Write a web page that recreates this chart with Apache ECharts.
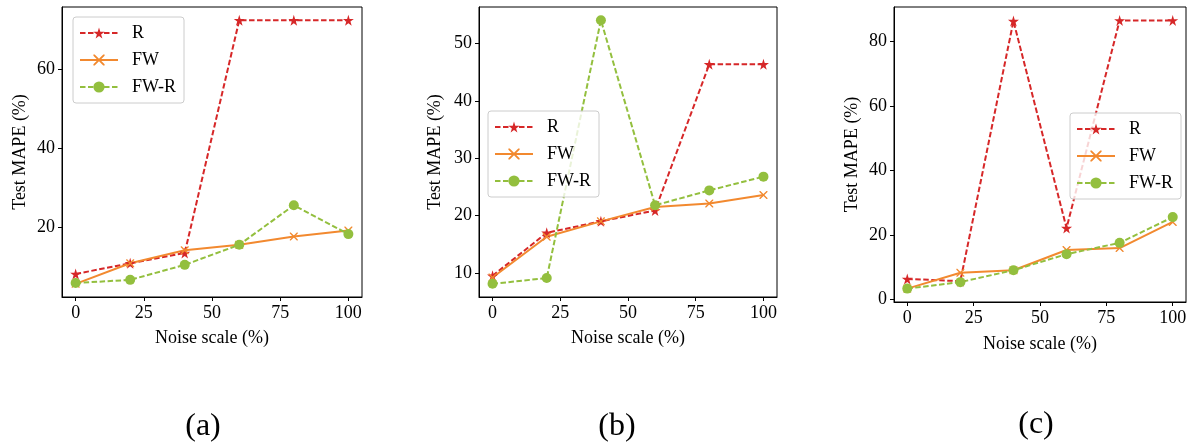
<!DOCTYPE html>
<html>
<head>
<meta charset="utf-8">
<script src="https://cdn.jsdelivr.net/npm/echarts@6/dist/echarts.min.js"></script>
<style>
html,body{margin:0;padding:0;background:#fff;}
#chart{width:1196px;height:443px;}
</style>
</head>
<body>
<div id="chart"></div>
<script>
// ---- data ----
const noiseScale = [0, 20, 40, 60, 80, 100];
const seriesNames = ['R', 'FW', 'FW-R'];
const a_R   = [8.2, 10.9, 13.5, 72.5, 72.5, 72.5];
const a_FW  = [5.7, 10.9, 14.2, 15.6, 17.7, 19.2];
const a_FWR = [5.9, 6.7, 10.5, 15.6, 25.6, 18.3];
const b_R   = [9.5, 17.0, 19.0, 20.9, 46.4, 46.4];
const b_FW  = [9.2, 16.3, 19.0, 21.5, 22.1, 23.6];
const b_FWR = [8.1, 9.1, 54.1, 21.8, 24.4, 26.8];
const c_R   = [6.3, 5.6, 86.4, 22.1, 86.6, 86.6];
const c_FW  = [3.3, 8.2, 9.0, 15.3, 15.9, 24.0];
const c_FWR = [3.3, 5.3, 9.0, 14.0, 17.5, 25.5];
const xTicks = [0, 25, 50, 75, 100];
const yTicksA = [20, 40, 60];
const yTicksB = [10, 20, 30, 40, 50];
const yTicksC = [0, 20, 40, 60, 80];
const panelLabels = ['(a)', '(b)', '(c)'];
const xAxisTitle = 'Noise scale (%)';
const yAxisTitle = 'Test MAPE (%)';

// ---- style ----
const FONT = 'Liberation Serif';
const COLORS = {R: '#d62728', FW: '#f2892f', 'FW-R': '#93bf3e'};
const STAR = 'path://M50,0 L61,35 L98,35 L68,57 L79,91 L50,70 L21,91 L32,57 L2,35 L39,35 Z';
const XMARK = 'path://M0,0 L1.2,0 L5,3.8 L8.8,0 L10,0 L10,1.2 L6.2,5 L10,8.8 L10,10 L8.8,10 L5,6.2 L1.2,10 L0,10 L0,8.8 L3.8,5 L0,1.2 Z';

const grids = [
  {left: 62, top: 7, width: 300, height: 290},
  {left: 479, top: 7, width: 298, height: 290},
  {left: 894, top: 7, width: 292, height: 295}
];
const panels = [
  {R: a_R, FW: a_FW, FWR: a_FWR, ticks: yTicksA, nameGap: 33},
  {R: b_R, FW: b_FW, FWR: b_FWR, ticks: yTicksB, nameGap: 35},
  {R: c_R, FW: c_FW, FWR: c_FWR, ticks: yTicksC, nameGap: 33}
];
const legendPos = [{left: 73, top: 17}, {left: 488, top: 111}, {left: 1070, top: 113}];

function pairs(ys) { return noiseScale.map((x, i) => [x, ys[i]]); }
function range(p) {
  const all = p.R.concat(p.FW, p.FWR);
  const lo = Math.min.apply(null, all), hi = Math.max.apply(null, all);
  const m = (hi - lo) * 0.05;
  return [lo - m, hi + m];
}

const option = {
  animation: false,
  backgroundColor: '#fff',
  grid: grids.map(g => Object.assign({show: true, borderColor: '#000', borderWidth: 1, backgroundColor: 'transparent'}, g)),
  xAxis: grids.map((g, i) => ({
    type: 'value', gridIndex: i, min: -5, max: 105,
    name: xAxisTitle, nameLocation: 'middle', nameGap: (i === 2 ? 33 : 32),
    nameTextStyle: {fontFamily: FONT, fontSize: 18, color: '#000'},
    splitLine: {show: false},
    axisLine: {show: true, onZero: false, lineStyle: {color: '#000', width: 1}},
    axisTick: {show: true, inside: false, length: 4, customValues: xTicks, lineStyle: {color: '#000'}},
    axisLabel: {show: true, margin: 7, customValues: xTicks, fontFamily: FONT, fontSize: 18, color: '#000'}
  })),
  yAxis: panels.map((p, i) => {
    const r = range(p);
    return {
      type: 'value', gridIndex: i, min: r[0], max: r[1],
      name: yAxisTitle, nameLocation: 'middle', nameGap: p.nameGap, nameRotate: 90,
      nameTextStyle: {fontFamily: FONT, fontSize: 18, color: '#000'},
      splitLine: {show: false},
      axisLine: {show: true, onZero: false, lineStyle: {color: '#000', width: 1}},
      axisTick: {show: true, inside: false, length: 4, customValues: p.ticks, lineStyle: {color: '#000'}},
      axisLabel: {show: true, margin: 7, customValues: p.ticks, fontFamily: FONT, fontSize: 18, color: '#000'}
    };
  }),
  legend: legendPos.map(pos => ({
    data: seriesNames, orient: 'vertical', left: pos.left, top: pos.top,
    itemWidth: 38, itemHeight: 14, itemGap: 9,
    padding: [7, 8, 7, 6],
    backgroundColor: 'rgba(255,255,255,0.8)', borderColor: '#cccccc', borderWidth: 1, borderRadius: 3,
    textStyle: {fontFamily: FONT, fontSize: 18, color: '#000', lineHeight: 18, padding: [0, 0, 0, 9]},
    selectedMode: false
  })),
  series: [],
  graphic: []
};

panels.forEach((p, i) => {
  option.series.push({
    name: 'R', type: 'line', xAxisIndex: i, yAxisIndex: i, data: pairs(p.R),
    symbol: STAR, symbolSize: 11, showSymbol: true,
    lineStyle: {color: COLORS.R, width: 2, type: [5.5, 2.5]},
    itemStyle: {color: COLORS.R}
  });
  option.series.push({
    name: 'FW', type: 'line', xAxisIndex: i, yAxisIndex: i, data: pairs(p.FW),
    symbol: XMARK, symbolSize: 8, showSymbol: true,
    lineStyle: {color: COLORS.FW, width: 2, type: 'solid'},
    itemStyle: {color: COLORS.FW}
  });
  option.series.push({
    name: 'FW-R', type: 'line', xAxisIndex: i, yAxisIndex: i, data: pairs(p.FWR),
    symbol: 'circle', symbolSize: 10, showSymbol: true,
    lineStyle: {color: COLORS['FW-R'], width: 2, type: [5.5, 2.5]},
    itemStyle: {color: COLORS['FW-R']}
  });
});

const labelCenters = [[203, 427], [617, 427], [1036, 425]];
panelLabels.forEach((t, i) => {
  option.graphic.push({
    type: 'text', x: labelCenters[i][0], y: labelCenters[i][1],
    style: {text: t, fontFamily: FONT, fontSize: 32, fill: '#000', align: 'center', verticalAlign: 'middle'}
  });
});

const chart = echarts.init(document.getElementById('chart'), null, {renderer: 'canvas'});
chart.setOption(option);
</script>
</body>
</html>
